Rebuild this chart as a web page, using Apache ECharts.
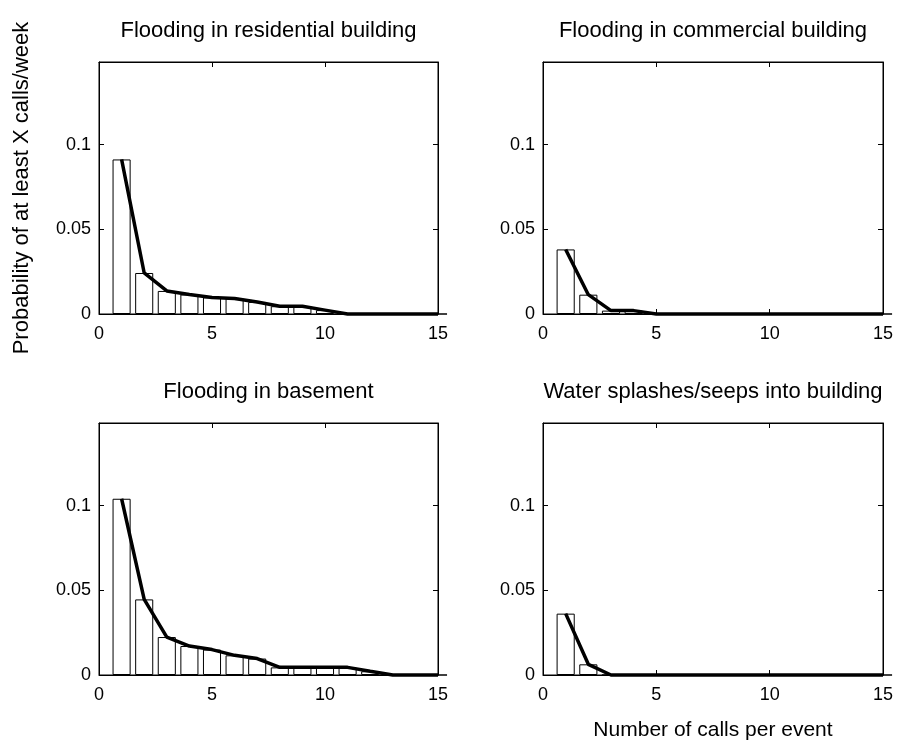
<!DOCTYPE html>
<html>
<head>
<meta charset="utf-8">
<script src="https://cdn.jsdelivr.net/npm/echarts@6/dist/echarts.min.js"></script>
<style>
  html, body { margin: 0; padding: 0; background: #fff; }
  #chart { width: 900px; height: 742px; }
</style>
</head>
<body>
<div id="chart"></div>
<script>
// Number of calls per event (x positions of the bars)
const calls = [1, 2, 3, 4, 5, 6, 7, 8, 9, 10, 11, 12, 13, 14, 15];

// Probability of at least X calls per week, one list per event type
const residential = [0.0912, 0.0242, 0.0136, 0.0115, 0.0098, 0.0092, 0.0071, 0.0046, 0.0046, 0.0023, 0, 0, 0, 0, 0];
const commercial  = [0.0381, 0.0114, 0.0020, 0.0020, 0, 0, 0, 0, 0, 0, 0, 0, 0, 0, 0];
const basement    = [0.1040, 0.0446, 0.0224, 0.0171, 0.0150, 0.0116, 0.0097, 0.0045, 0.0045, 0.0045, 0.0045, 0.0022, 0, 0, 0];
const splashes    = [0.0362, 0.0063, 0, 0, 0, 0, 0, 0, 0, 0, 0, 0, 0, 0, 0];

const panelTitles = [
  'Flooding in residential building',
  'Flooding in commercial building',
  'Flooding in basement',
  'Water splashes/seeps into building'
];
const panelValues = [residential, commercial, basement, splashes];

// Axis ranges and tick spacing
const xRange = [0, 15];
const xStep = 5;
const yRange = [0, 0.1487];
const yStep = 0.05;

const yAxisTitle = 'Probability of at least X calls/week';
const xAxisTitle = 'Number of calls per event';

const FONT = 'Liberation Sans, Arial, Helvetica, sans-serif';

// Panel rectangles (2 x 2 layout)
const panels = [
  { left: 99,  top: 62,  width: 339, height: 252 },
  { left: 543, top: 62,  width: 340, height: 252 },
  { left: 99,  top: 423, width: 339, height: 252 },
  { left: 543, top: 423, width: 340, height: 252 }
];

const grids = [], xAxes = [], yAxes = [], series = [], graphics = [];

panels.forEach((p, i) => {
  grids.push({ left: p.left, top: p.top, width: p.width, height: p.height,
               show: true, borderColor: '#000', borderWidth: 1,
               containLabel: false, outerBoundsMode: 'none' });

  const tickStyle = { show: true, inside: true, length: 5, lineStyle: { color: '#000', width: 1 } };
  const lineStyle = { show: true, onZero: false, lineStyle: { color: '#000', width: 1 } };

  // bottom x axis with labels
  xAxes.push({
    gridIndex: i, type: 'value', min: xRange[0], max: xRange[1], interval: xStep,
    position: 'bottom', axisLine: lineStyle, axisTick: tickStyle, splitLine: { show: false },
    axisLabel: { color: '#000', fontFamily: FONT, fontSize: 18, margin: 11 },
    name: i === 3 ? xAxisTitle : '', nameLocation: 'middle', nameGap: 45,
    nameTextStyle: { color: '#000', fontFamily: FONT, fontSize: 21 }
  });
  // mirrored top x axis (ticks only)
  xAxes.push({
    gridIndex: i, type: 'value', min: xRange[0], max: xRange[1], interval: xStep,
    position: 'top', axisLine: lineStyle, axisTick: tickStyle, splitLine: { show: false },
    axisLabel: { show: false }
  });
  // left y axis with labels
  yAxes.push({
    gridIndex: i, type: 'value', min: yRange[0], max: yRange[1], interval: yStep,
    position: 'left', axisLine: lineStyle, axisTick: tickStyle, splitLine: { show: false },
    axisLabel: { color: '#000', fontFamily: FONT, fontSize: 18, margin: 8, showMaxLabel: false },
    name: i === 0 ? yAxisTitle : '', nameLocation: 'middle', nameGap: 66, nameRotate: 90,
    nameTextStyle: { color: '#000', fontFamily: FONT, fontSize: 22 }
  });
  // mirrored right y axis (ticks only)
  yAxes.push({
    gridIndex: i, type: 'value', min: yRange[0], max: yRange[1], interval: yStep,
    position: 'right', axisLine: lineStyle, axisTick: tickStyle, splitLine: { show: false },
    axisLabel: { show: false }
  });

  const pts = calls.map((c, k) => [c, panelValues[i][k]]);
  const unit = p.width / (xRange[1] - xRange[0]);

  series.push({
    type: 'bar', xAxisIndex: 2 * i, yAxisIndex: 2 * i,
    data: pts, barWidth: unit * 0.8, silent: true,
    itemStyle: { color: '#fff', borderColor: '#000', borderWidth: 1 },
    z: 2
  });
  series.push({
    type: 'line', xAxisIndex: 2 * i, yAxisIndex: 2 * i,
    data: pts, showSymbol: false, symbol: 'none', clip: false, silent: true,
    lineStyle: { color: '#000', width: 3.5 },
    z: 3
  });

  graphics.push({
    type: 'text', x: p.left + p.width / 2, y: p.top - 31,
    style: { text: panelTitles[i], fill: '#000', font: '22px ' + FONT,
             textAlign: 'center', textVerticalAlign: 'middle' }
  });
});

const chart = echarts.init(document.getElementById('chart'), null, { renderer: 'canvas' });
chart.setOption({
  animation: false,
  backgroundColor: '#fff',
  grid: grids,
  xAxis: xAxes,
  yAxis: yAxes,
  series: series,
  graphic: graphics
});
</script>
</body>
</html>
